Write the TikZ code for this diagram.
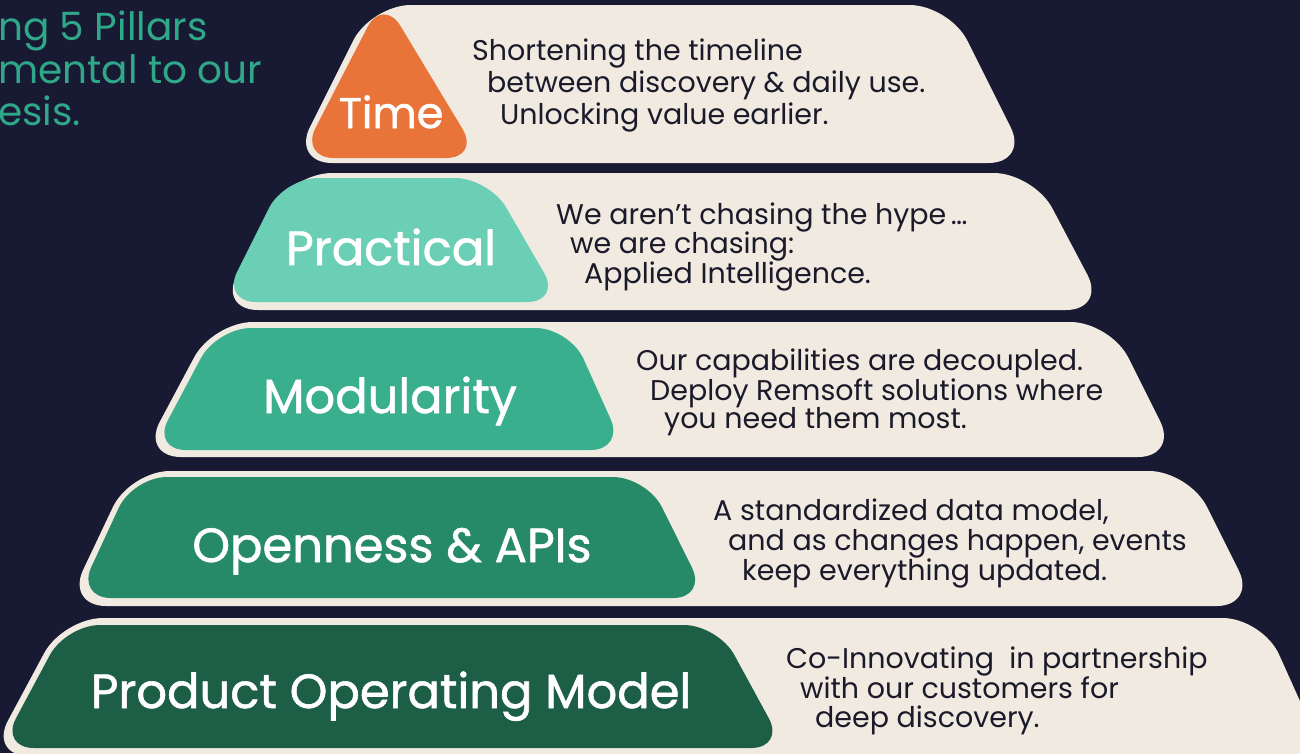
\documentclass[tikz,border=0pt]{standalone}
\usepackage{fontspec}
\setmainfont{Poppins}
\newfontfamily\lblfont{Poppins}[FakeBold=1.2]
\definecolor{bgnavy}{RGB}{24,25,50}
\definecolor{beige}{RGB}{240,234,225}
\definecolor{cOrange}{RGB}{233,116,58}
\definecolor{cPract}{RGB}{106,207,180}
\definecolor{cModul}{RGB}{58,175,141}
\definecolor{cOpen}{RGB}{38,138,104}
\definecolor{cPOM}{RGB}{29,94,71}
\definecolor{headteal}{RGB}{47,168,138}
\definecolor{inkdark}{RGB}{26,26,42}
\tikzset{
  band/.style={fill=beige, rounded corners=40pt},
  pill/.style={rounded corners=34pt},
  lbl/.style={anchor=base, text=white, inner sep=0pt, font=\lblfont\fontsize{48}{54}\selectfont},
  desc/.style={anchor=base west, text=inkdark, inner sep=0pt, font=\fontsize{28.5}{32}\selectfont},
  head/.style={anchor=base west, text=headteal, inner sep=0pt, font=\fontsize{39}{44}\selectfont}
}
\begin{document}
\begin{tikzpicture}[x=1pt,y=-1pt]
\useasboundingbox (0,0) rectangle (1300,753);
\fill[bgnavy] (0,0) rectangle (1300,753);
\clip (0,0) rectangle (1300,753);

% heading fragment
\node[head] (h1) at (-2,40) {ng 5 Pillars};
\node[head] (h2) at (-2,83) {mental to our};
\node[head] (h3) at (-2,125) {esis.};

% Layer 1: Time
\fill[band] (371,5) -- (949.5,5) -- (1028.5,163) -- (292,163) -- cycle;
\fill[cOrange, rounded corners=34pt] (383,-3) -- (480,158) -- (300,158) -- cycle;
\node[lbl, font=\lblfont\fontsize{43}{48}\selectfont] (l1) at (391,128) {Time};
\node[desc] (d1a) at (472,60) {Shortening the timeline};
\node[desc] (d1b) at (487,92) {between discovery \& daily use.};
\node[desc] (d1c) at (500,124) {Unlocking value earlier.};

% Layer 2: Practical
\fill[band] (292,173) -- (1033.7,173) -- (1106,310) -- (218,310) -- cycle;
\fill[cPract, pill] (284,178) -- (489,178) -- (561,302) -- (222,302) -- cycle;
\node[lbl] (l2) at (391,265) {Practical};
\node[desc] (d2a) at (556,224) {We aren’t chasing the hype\,…};
\node[desc] (d2b) at (570,253) {we are chasing:};
\node[desc] (d2c) at (584,283) {Applied Intelligence.};

% Layer 3: Modularity
\fill[band] (213,322) -- (1110.5,322) -- (1178,457) -- (141,457) -- cycle;
\fill[cModul, pill] (217,328) -- (569.6,328) -- (624.5,450) -- (152,450) -- cycle;
\node[lbl] (l3) at (390,413) {Modularity};
\node[desc] (d3a) at (636,370) {Our capabilities are decoupled.};
\node[desc] (d3b) at (650,400) {Deploy Remsoft solutions where};
\node[desc] (d3c) at (664,428) {you need them most.};

% Layer 4: Openness & APIs
\fill[band] (130,471) -- (1189,471) -- (1256.5,606) -- (66,606) -- cycle;
\fill[cOpen, pill] (133,477) -- (647,477) -- (707,598) -- (77,598) -- cycle;
\node[lbl] (l4) at (392,562) {Openness \& APIs};
\node[desc] (d4a) at (713,520) {A standardized data model,};
\node[desc] (d4b) at (728,550) {and as changes happen, events};
\node[desc] (d4c) at (742,580) {keep everything updated.};

% Layer 5: Product Operating Model
\fill[band] (63,618) -- (1262.6,618) -- (1324.7,756) -- (-11,756) -- cycle;
\fill[cPOM, pill] (66,625) -- (718,625) -- (785,748) -- (0,748) -- cycle;
\node[lbl] (l5) at (391,708) {Product Operating Model};
\node[desc] (d5a) at (786,668) {Co-Innovating\ \ in partnership};
\node[desc] (d5b) at (800,698) {with our customers for};
\node[desc] (d5c) at (815,727) {deep discovery.};
\end{tikzpicture}
\end{document}
